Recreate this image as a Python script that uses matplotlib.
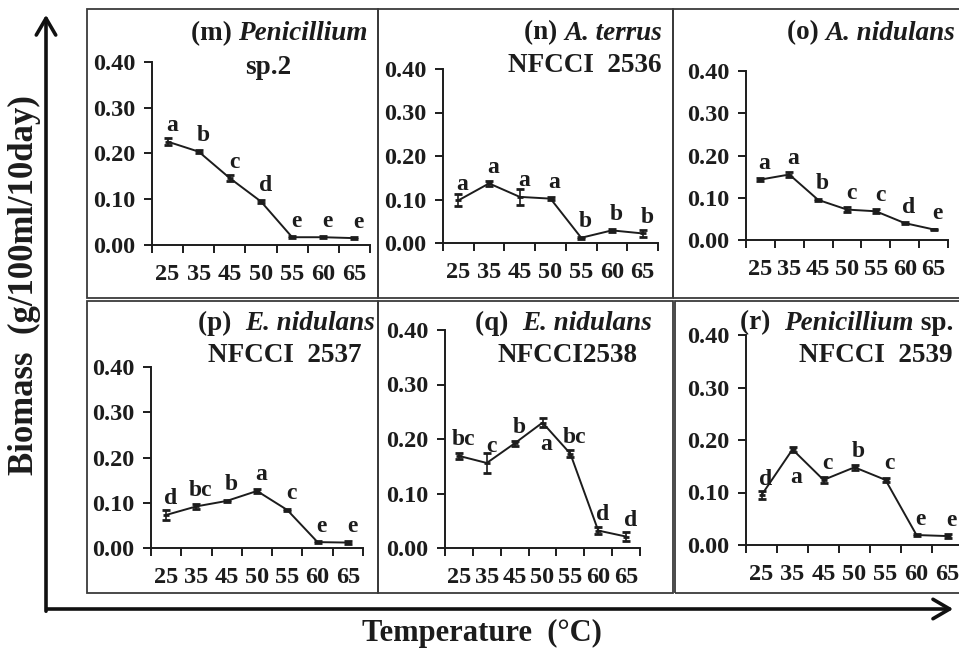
import matplotlib.pyplot as plt
from matplotlib.patches import Rectangle, FancyArrowPatch

temps = ['25', '35', '45', '50', '55', '60', '65']

m_vals = [0.226, 0.204, 0.146, 0.095, 0.017, 0.017, 0.015]
m_err = [0.008, 0.003, 0.007, 0.004, 0.002, 0.002, 0.002]
m_sig = ['a', 'b', 'c', 'd', 'e', 'e', 'e']

n_vals = [0.098, 0.137, 0.106, 0.102, 0.012, 0.029, 0.022]
n_err = [0.014, 0.005, 0.018, 0.003, 0.002, 0.003, 0.009]
n_sig = ['a', 'a', 'a', 'a', 'b', 'b', 'b']

o_vals = [0.143, 0.155, 0.095, 0.072, 0.068, 0.040, 0.025]
o_err = [0.004, 0.005, 0.003, 0.006, 0.005, 0.003, 0.002]
o_sig = ['a', 'a', 'b', 'c', 'c', 'd', 'e']

p_vals = [0.073, 0.092, 0.104, 0.126, 0.084, 0.013, 0.012]
p_err = [0.012, 0.005, 0.002, 0.004, 0.003, 0.003, 0.003]
p_sig = ['d', 'bc', 'b', 'a', 'c', 'e', 'e']

q_vals = [0.169, 0.156, 0.192, 0.230, 0.173, 0.032, 0.021]
q_err = [0.006, 0.018, 0.004, 0.008, 0.006, 0.006, 0.008]
q_sig = ['bc', 'c', 'b', 'a', 'bc', 'd', 'd']

r_vals = [0.095, 0.182, 0.124, 0.148, 0.124, 0.019, 0.017]
r_err = [0.008, 0.004, 0.005, 0.005, 0.004, 0.002, 0.004]
r_sig = ['d', 'a', 'c', 'b', 'c', 'e', 'e']

W, H = 959, 652
SERIF = 'Liberation Serif'
INK = '#1c1c1c'

fig = plt.figure(figsize=(W / 100, H / 100), dpi=100)


def fx(px):
    return px / W


def fy(py):
    return 1 - py / H


# panel frames (pixel boxes: x0, y0, x1, y1 from top-left)
frames = [(87, 9, 378, 298), (378, 9, 673, 298), (673, 9, 965, 298),
          (87, 301, 378, 593), (378, 301, 673, 593), (675, 301, 965, 593)]
for x0, y0, x1, y1 in frames:
    fig.add_artist(Rectangle((fx(x0), fy(y1)), (x1 - x0) / W, (y1 - y0) / H,
                             transform=fig.transFigure, fill=False, lw=1.3, ec='#3a3a3a'))

# inner plot areas (left, top, right, bottom) in pixels
boxes = [(152, 62, 370, 245), (443, 69, 658, 243), (746, 71, 948, 240),
         (151, 367, 363, 548), (445, 330, 640, 548), (746, 335, 963, 545)]
series = [(m_vals, m_err, m_sig), (n_vals, n_err, n_sig), (o_vals, o_err, o_sig),
          (p_vals, p_err, p_sig), (q_vals, q_err, q_sig), (r_vals, r_err, r_sig)]
# letters drawn under the point instead of above: (panel, index)
below = {(4, 3): 22, (5, 1): 28}

x = list(range(len(temps)))
for k, ((l, t, r, b), (vals, err, sig)) in enumerate(zip(boxes, series)):
    ax = fig.add_axes([fx(l), fy(b), (r - l) / W, (b - t) / H])
    ax.errorbar(x, vals, yerr=err, color=INK, lw=1.4, capsize=3, capthick=1.2,
                elinewidth=1.2, marker='_', ms=5, mew=2)
    for i, (v, s) in enumerate(zip(vals, sig)):
        if (k, i) in below:
            dy = -below[(k, i)] * 0.72
        else:
            dy = 16 * 0.72
        ax.annotate(s, (i, v), xytext=(3, dy), textcoords='offset points',
                    ha='center', va='center', fontsize=17, fontweight='bold',
                    family=SERIF, color=INK)
    ax.set_xlim(-0.5, len(temps) - 0.5)
    ax.set_ylim(0, 0.40)
    ax.set_yticks([0, 0.1, 0.2, 0.3, 0.4])
    ax.set_yticklabels(['0.00', '0.10', '0.20', '0.30', '0.40'])
    ax.set_xticks(x)
    ax.set_xticklabels(temps)
    ax.set_xticks([i - 0.5 for i in range(len(temps) + 1)], minor=True)
    ax.tick_params(axis='x', which='major', length=0, pad=14)
    ax.tick_params(axis='x', which='minor', length=6, width=1.4, direction='out', color=INK)
    ax.tick_params(axis='y', length=6, width=1.4, direction='out', pad=6, color=INK)
    for lab in ax.get_xticklabels() + ax.get_yticklabels():
        lab.set_fontfamily(SERIF)
        lab.set_fontweight('bold')
        lab.set_fontsize(17.5)
        lab.set_color(INK)
    for side in ['top', 'right']:
        ax.spines[side].set_visible(False)
    for side in ['left', 'bottom']:
        ax.spines[side].set_linewidth(1.4)
        ax.spines[side].set_color(INK)
    ax.patch.set_alpha(0)

# panel titles: segments of (text, italic)
titles = [
    ([('(m) ', False), ('Penicillium', True)], 368, 31, 'right'),
    ([('sp.2', False)], 268, 65, 'center'),
    ([('(n) ', False), ('A. terrus', True)], 662, 30, 'right'),
    ([('NFCCI  2536', False)], 662, 63, 'right'),
    ([('(o) ', False), ('A. nidulans', True)], 955, 30, 'right'),
    ([('(p)  ', False), ('E. nidulans', True)], 375, 320, 'right'),
    ([('NFCCI  2537', False)], 362, 352, 'right'),
    ([('(q)  ', False), ('E. nidulans', True)], 652, 320, 'right'),
    ([('NFCCI2538', False)], 567, 352, 'center'),
    ([('(r)  ', False), ('Penicillium', True), (' sp.', False)], 953, 320, 'right'),
    ([('NFCCI  2539', False)], 953, 352, 'right'),
]

fig.canvas.draw()
renderer = fig.canvas.get_renderer()
for segs, px, py, align in titles:
    objs = []
    for s, it in segs:
        objs.append(fig.text(0, fy(py), s, family=SERIF, fontweight='bold',
                             style='italic' if it else 'normal', fontsize=19.5,
                             va='center_baseline', ha='left', color=INK))
    widths = [o.get_window_extent(renderer).width for o in objs]
    total = sum(widths)
    if align == 'right':
        start = px - total
    elif align == 'center':
        start = px - total / 2
    else:
        start = px
    for o, w in zip(objs, widths):
        o.set_x(fx(start))
        start += w

# big axis arrows
fig.add_artist(FancyArrowPatch((fx(46), fy(614)), (fx(46), fy(12)), transform=fig.transFigure,
                               arrowstyle='->,head_length=0.6,head_width=0.35',
                               mutation_scale=20, lw=2.6, color='#111111'))
fig.add_artist(FancyArrowPatch((fx(44), fy(609)), (fx(956), fy(609)), transform=fig.transFigure,
                               arrowstyle='->,head_length=0.6,head_width=0.35',
                               mutation_scale=20, lw=2.6, color='#111111'))

fig.text(fx(24), fy(285), 'Biomass  (g/100ml/10day)', rotation=90, ha='center', va='center',
         family=SERIF, fontweight='bold', fontsize=25, color=INK)
fig.text(fx(482), fy(633), 'Temperature  (\u00b0C)', ha='center', va='center',
         family=SERIF, fontweight='bold', fontsize=22, color=INK)

fig.savefig('out.png', dpi=100)
